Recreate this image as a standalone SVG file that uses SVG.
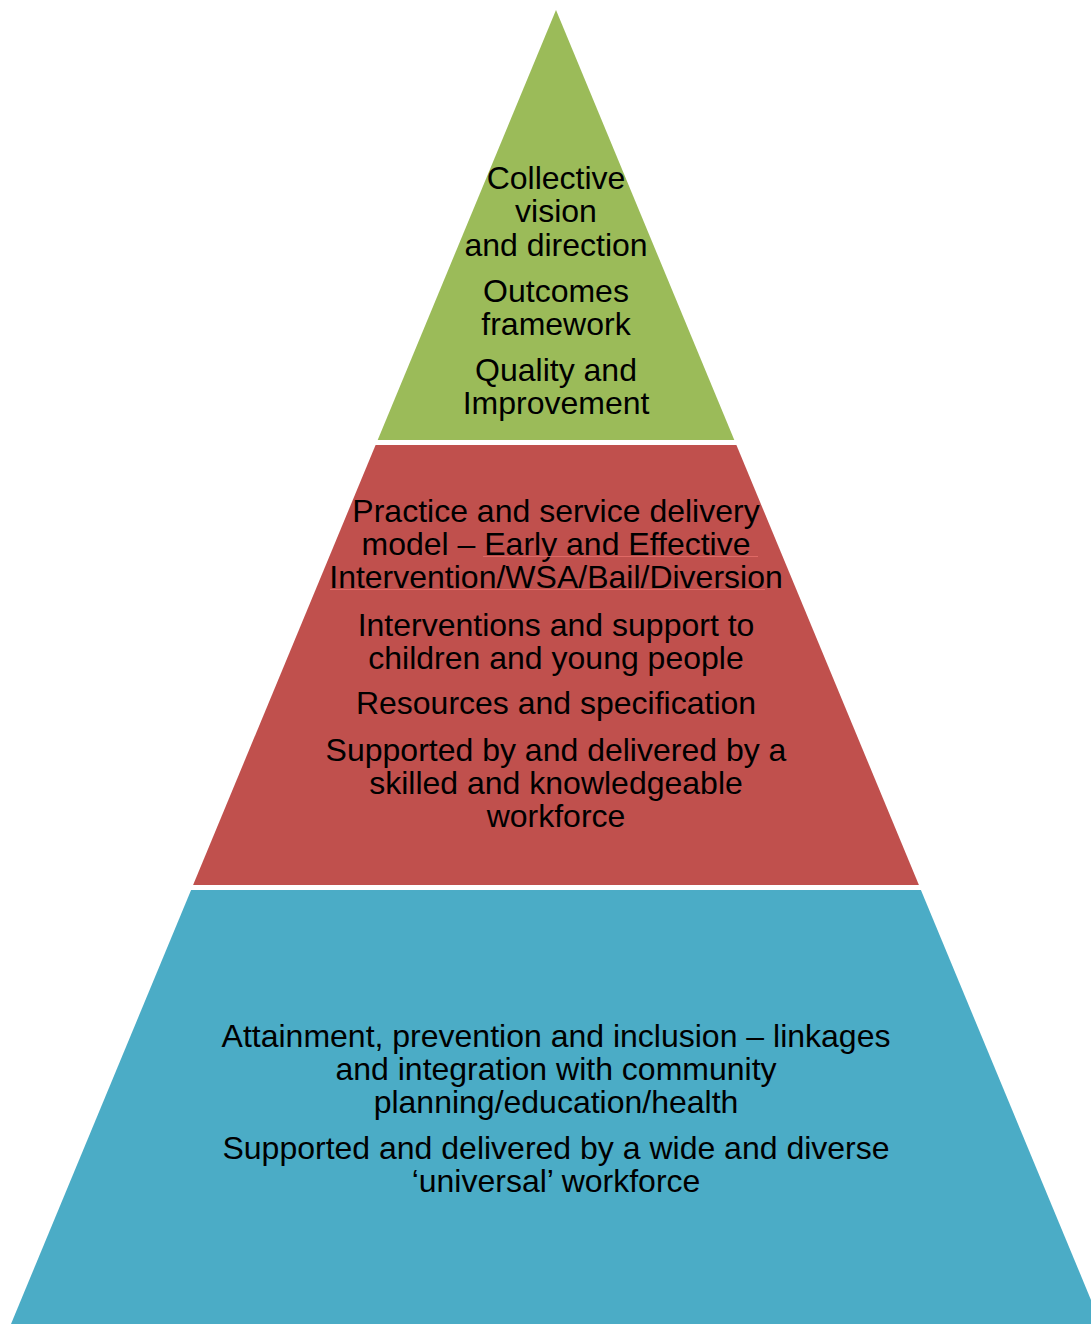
<svg xmlns="http://www.w3.org/2000/svg" width="1091" height="1324" viewBox="0 0 1091 1324">
<style>
.t{font-family:"Liberation Sans",Arial,sans-serif;font-size:32px;fill:#000;text-anchor:middle}
.sq{stroke:#e8706c;stroke-width:1;opacity:0.8}
</style>
<rect width="1091" height="1324" fill="#fff"/>
<g id="tier-top">
<polygon points="556,10 734.3,440 377.7,440" fill="#9BBB59"/>
<text class="t" x="556" y="189">Collective</text>
<text class="t" x="556" y="222">vision</text>
<text class="t" x="556" y="256">and direction</text>
<text class="t" x="556" y="302">Outcomes</text>
<text class="t" x="556" y="335">framework</text>
<text class="t" x="556" y="381">Quality and</text>
<text class="t" x="556" y="414">Improvement</text>
</g>
<g id="tier-middle">
<polygon points="375.6,445 736.4,445 918.9,885 193.1,885" fill="#C0504D"/>
<text class="t" x="556" y="522">Practice and service delivery</text>
<text class="t" x="556" y="555">model – Early and Effective</text>
<text class="t" x="556" y="588">Intervention/WSA/Bail/Diversion</text>
<line class="sq" x1="483" y1="556.5" x2="758" y2="556.5"/>
<line class="sq" x1="330" y1="589.5" x2="765" y2="589.5"/>
<text class="t" x="556" y="636">Interventions and support to</text>
<text class="t" x="556" y="669">children and young people</text>
<text class="t" x="556" y="714">Resources and specification</text>
<text class="t" x="556" y="761">Supported by and delivered by a</text>
<text class="t" x="556" y="794">skilled and knowledgeable</text>
<text class="t" x="556" y="827">workforce</text>
</g>
<g id="tier-bottom">
<polygon points="191.1,890 920.9,890 1101,1324 11,1324" fill="#4BACC6"/>
<text class="t" x="556" y="1047">Attainment, prevention and inclusion – linkages</text>
<text class="t" x="556" y="1080">and integration with community</text>
<text class="t" x="556" y="1113">planning/education/health</text>
<text class="t" x="556" y="1159">Supported and delivered by a wide and diverse</text>
<text class="t" x="556" y="1192">‘universal’ workforce</text>
</g>
<g id="connectors"></g>
</svg>
